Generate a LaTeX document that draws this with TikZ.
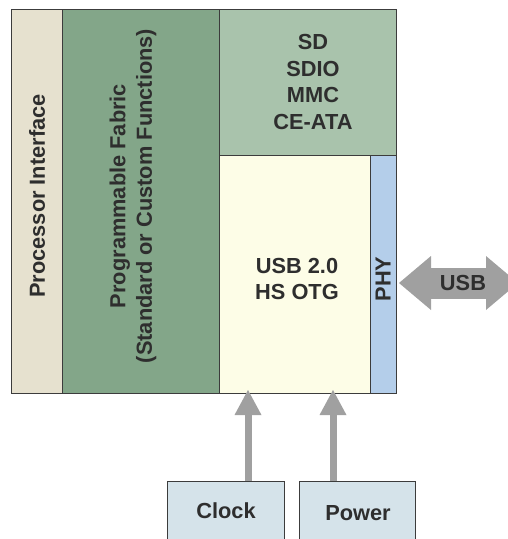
\documentclass[tikz,border=0pt]{standalone}
\usepackage{fontspec}
\setmainfont{Liberation Sans}
\usetikzlibrary{arrows.meta,calc}
\definecolor{procfill}{HTML}{E6E1CF}
\definecolor{fabfill}{HTML}{83A689}
\definecolor{sdfill}{HTML}{A9C3AC}
\definecolor{usbfill}{HTML}{FDFDE7}
\definecolor{phyfill}{HTML}{B4CEEA}
\definecolor{extfill}{HTML}{D5E3EA}
\definecolor{arrowc}{HTML}{A0A0A0}
\definecolor{textc}{HTML}{2E2E2E}
\definecolor{border}{HTML}{3C3C3C}
\begin{document}
\begin{tikzpicture}[x=1pt,y=-1pt,
  blockbox/.style={draw=border, line width=1pt, inner sep=0pt, anchor=north west},
  lbl/.style={text=textc, font=\fontsize{21.8}{26.6}\selectfont\bfseries, align=center, inner sep=0pt},
  feed/.style={draw=arrowc, line width=7pt, -{Triangle[width=27pt,length=25pt,line width=0pt]}},
  bus/.style={draw=arrowc, line width=31pt, {Triangle[width=54pt,length=32pt,line width=0pt]}-{Triangle[width=54pt,length=32pt,line width=0pt]}}]
\useasboundingbox (0,0) rectangle (508,539);
% blocks
\node[blockbox, fill=procfill, minimum width=51pt, minimum height=384pt] (proc) at (11,9) {};
\node[blockbox, fill=fabfill, minimum width=157pt, minimum height=384pt] (fab) at (62,9) {};
\node[blockbox, fill=sdfill, minimum width=177pt, minimum height=146pt] (sd) at (219,9) {};
\node[blockbox, fill=usbfill, minimum width=151pt, minimum height=238pt] (usb) at (219,155) {};
\node[blockbox, fill=phyfill, minimum width=26pt, minimum height=238pt] (phy) at (370,155) {};
\node[blockbox, fill=extfill, minimum width=117pt, minimum height=70pt] (clock) at (167,481) {};
\node[blockbox, fill=extfill, minimum width=116pt, minimum height=70pt] (power) at (299,481) {};
% labels
\node[lbl, rotate=90] (proclbl) at (37,196) {Processor Interface};
\node[lbl, rotate=90] (fablbl) at (133,196) {Programmable Fabric\\(Standard or Custom Functions)};
\node[lbl] (sdlbl) at (313,82) {SD\\SDIO\\MMC\\CE-ATA};
\node[lbl] (usblbl) at (297,279) {USB 2.0\\HS OTG};
\node[lbl, rotate=90] (phylbl) at (383,279) {PHY};
\node[lbl, anchor=base] (clocklbl) at (226,518) {Clock};
\node[lbl, anchor=base] (powerlbl) at (358,520) {Power};
% connectors
\coordinate (ca) at (248,0);
\coordinate (pa) at (333,0);
\coordinate (busend) at (518,283);
\coordinate (busy) at (0,283);
\draw[feed] (clock.north -| ca) -- ([yshift=4pt]usb.south -| ca);
\draw[feed] (power.north -| pa) -- ([yshift=4pt]usb.south -| pa);
\draw[bus] ([xshift=2pt]phy.east |- busy) -- (busend);
\node[lbl] (buslbl) at (463,283) {USB};
\end{tikzpicture}
\end{document}
